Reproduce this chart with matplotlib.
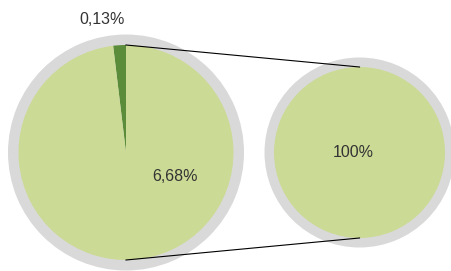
import matplotlib.pyplot as plt

# data
main_labels = ["0,13%", "6,68%"]
main_values = [0.13, 6.68]
sub_labels = ["100%"]
sub_values = [100]

light_green = "#cbda95"
dark_green = "#5b8c3a"
ring_gray = "#d9d9d9"
text_color = "#333333"

plt.rcParams['font.family'] = ['Liberation Sans', 'DejaVu Sans']


def main():
    fig = plt.figure(figsize=(4.51, 2.71), dpi=100)
    ax = fig.add_axes([0, 0, 1, 1])

    # pixel-ish coordinates, y pointing up
    c1, r1, ring1 = (126, 118.5), 107.5, 118
    c2, r2, ring2 = (359.5, 118.5), 85.5, 95

    # gray rings
    ax.pie([1], colors=[ring_gray], radius=ring1, center=c1, frame=True)
    ax.pie([1], colors=[ring_gray], radius=ring2, center=c2, frame=True)

    # main pie
    ax.pie(main_values, colors=[dark_green, light_green], radius=r1, center=c1,
           startangle=90, counterclock=True, frame=True)
    # second pie
    ax.pie(sub_values, colors=[light_green], radius=r2, center=c2,
           startangle=90, frame=True)

    # connecting lines
    ax.plot([c1[0], c2[0]], [c1[1] + r1, c2[1] + r2], color="black", lw=0.8)
    ax.plot([c1[0], c2[0]], [c1[1] - r1, c2[1] - r2], color="black", lw=0.8)

    # labels
    ax.text(c1[0] - 23.5, c1[1] + 133.5, main_labels[0], ha="center", va="center",
            fontsize=11.5, color=text_color)
    ax.text(c1[0] + 49, c1[1] - 24, main_labels[1], ha="center", va="center",
            fontsize=11.5, color=text_color)
    ax.text(c2[0] - 6, c2[1], sub_labels[0], ha="center", va="center",
            fontsize=11.5, color=text_color)

    ax.set_xlim(0, 451)
    ax.set_ylim(0, 271)
    ax.set_aspect("auto")
    ax.axis("off")
    fig.savefig("out.png", dpi=100)


if __name__ == "__main__":
    main()
